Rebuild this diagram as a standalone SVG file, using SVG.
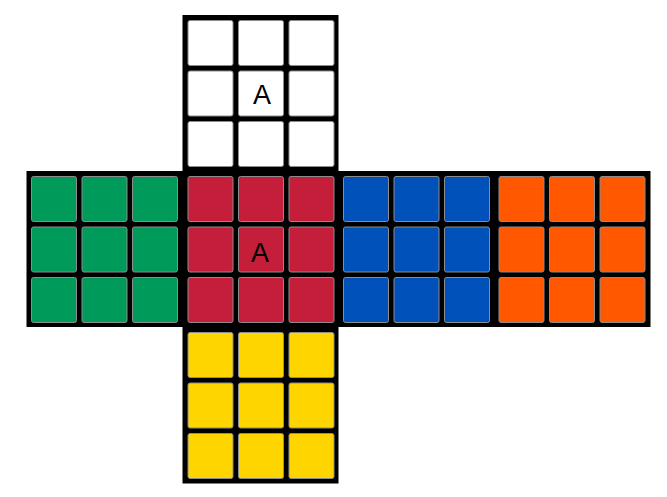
<svg xmlns="http://www.w3.org/2000/svg" width="667" height="497" viewBox="0 0 667 497">
<style>
.frame{fill:#000}
.c{stroke:#8c8c8c;stroke-width:1;width:45px;height:45px}
.w{fill:#ffffff}
.g{fill:#009a5b}
.r{fill:#c41e3a}
.b{fill:#0051ba}
.o{fill:#ff5800}
.y{fill:#ffd500}
.lbl{font-family:"Liberation Sans",Arial,sans-serif;font-size:27px;fill:#000;text-anchor:middle}
</style>
<rect width="667" height="497" fill="#fff"/>
<g id="frames">
<rect class="frame" x="182.5" y="15" width="156" height="160"/>
<rect class="frame" x="26.5" y="171" width="624" height="156"/>
<rect class="frame" x="182.5" y="325" width="156" height="158.5"/>
</g>
<g id="face-top">
<rect class="c w" x="188" y="20.5" width="45" height="45" rx="2"/>
<rect class="c w" x="238.5" y="20.5" width="45" height="45" rx="2"/>
<rect class="c w" x="289" y="20.5" width="45" height="45" rx="2"/>
<rect class="c w" x="188" y="71" width="45" height="45" rx="2"/>
<rect class="c w" x="238.5" y="71" width="45" height="45" rx="2"/>
<rect class="c w" x="289" y="71" width="45" height="45" rx="2"/>
<rect class="c w" x="188" y="121.5" width="45" height="45" rx="2"/>
<rect class="c w" x="238.5" y="121.5" width="45" height="45" rx="2"/>
<rect class="c w" x="289" y="121.5" width="45" height="45" rx="2"/>
<text class="lbl" x="262" y="104">A</text>
</g>
<g id="face-left">
<rect class="c g" x="31.5" y="176.5" width="45" height="45" rx="2"/>
<rect class="c g" x="82" y="176.5" width="45" height="45" rx="2"/>
<rect class="c g" x="132.5" y="176.5" width="45" height="45" rx="2"/>
<rect class="c g" x="31.5" y="227" width="45" height="45" rx="2"/>
<rect class="c g" x="82" y="227" width="45" height="45" rx="2"/>
<rect class="c g" x="132.5" y="227" width="45" height="45" rx="2"/>
<rect class="c g" x="31.5" y="277.5" width="45" height="45" rx="2"/>
<rect class="c g" x="82" y="277.5" width="45" height="45" rx="2"/>
<rect class="c g" x="132.5" y="277.5" width="45" height="45" rx="2"/>
</g>
<g id="face-front">
<rect class="c r" x="188" y="176.5" width="45" height="45" rx="2"/>
<rect class="c r" x="238.5" y="176.5" width="45" height="45" rx="2"/>
<rect class="c r" x="289" y="176.5" width="45" height="45" rx="2"/>
<rect class="c r" x="188" y="227" width="45" height="45" rx="2"/>
<rect class="c r" x="238.5" y="227" width="45" height="45" rx="2"/>
<rect class="c r" x="289" y="227" width="45" height="45" rx="2"/>
<rect class="c r" x="188" y="277.5" width="45" height="45" rx="2"/>
<rect class="c r" x="238.5" y="277.5" width="45" height="45" rx="2"/>
<rect class="c r" x="289" y="277.5" width="45" height="45" rx="2"/>
<text class="lbl" x="260" y="262">A</text>
</g>
<g id="face-right">
<rect class="c b" x="343.5" y="176.5" width="45" height="45" rx="2"/>
<rect class="c b" x="394" y="176.5" width="45" height="45" rx="2"/>
<rect class="c b" x="444.5" y="176.5" width="45" height="45" rx="2"/>
<rect class="c b" x="343.5" y="227" width="45" height="45" rx="2"/>
<rect class="c b" x="394" y="227" width="45" height="45" rx="2"/>
<rect class="c b" x="444.5" y="227" width="45" height="45" rx="2"/>
<rect class="c b" x="343.5" y="277.5" width="45" height="45" rx="2"/>
<rect class="c b" x="394" y="277.5" width="45" height="45" rx="2"/>
<rect class="c b" x="444.5" y="277.5" width="45" height="45" rx="2"/>
</g>
<g id="face-back">
<rect class="c o" x="499" y="176.5" width="45" height="45" rx="2"/>
<rect class="c o" x="549.5" y="176.5" width="45" height="45" rx="2"/>
<rect class="c o" x="600" y="176.5" width="45" height="45" rx="2"/>
<rect class="c o" x="499" y="227" width="45" height="45" rx="2"/>
<rect class="c o" x="549.5" y="227" width="45" height="45" rx="2"/>
<rect class="c o" x="600" y="227" width="45" height="45" rx="2"/>
<rect class="c o" x="499" y="277.5" width="45" height="45" rx="2"/>
<rect class="c o" x="549.5" y="277.5" width="45" height="45" rx="2"/>
<rect class="c o" x="600" y="277.5" width="45" height="45" rx="2"/>
</g>
<g id="face-bottom">
<rect class="c y" x="188" y="332.5" width="45" height="45" rx="2"/>
<rect class="c y" x="238.5" y="332.5" width="45" height="45" rx="2"/>
<rect class="c y" x="289" y="332.5" width="45" height="45" rx="2"/>
<rect class="c y" x="188" y="383" width="45" height="45" rx="2"/>
<rect class="c y" x="238.5" y="383" width="45" height="45" rx="2"/>
<rect class="c y" x="289" y="383" width="45" height="45" rx="2"/>
<rect class="c y" x="188" y="433.5" width="45" height="45" rx="2"/>
<rect class="c y" x="238.5" y="433.5" width="45" height="45" rx="2"/>
<rect class="c y" x="289" y="433.5" width="45" height="45" rx="2"/>
</g>
<g id="connectors"/>
</svg>
